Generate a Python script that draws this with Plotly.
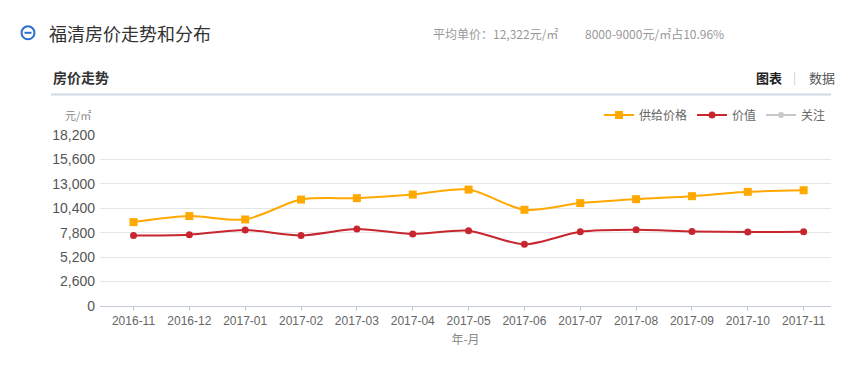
import plotly.graph_objects as go

months = ["2016-11", "2016-12", "2017-01", "2017-02", "2017-03", "2017-04", "2017-05",
          "2017-06", "2017-07", "2017-08", "2017-09", "2017-10", "2017-11"]
supply_price = [8930, 9570, 9210, 11330, 11480, 11860, 12390, 10240, 10950, 11370, 11690, 12150, 12322]
value_price = [7510, 7590, 8080, 7510, 8190, 7660, 8010, 6560, 7900, 8110, 7940, 7870, 7900]
attention = [None] * len(months)
y_ticks = [0, 2600, 5200, 7800, 10400, 13000, 15600, 18200]

# page body has an 8px margin; figure sits inside it
OFF = 8
W, H = 851 - 2 * OFF, 379 - 2 * OFF
L, R, T, B = 100 - OFF, 851 - 831 - OFF, 135 - OFF, 379 - 306.5 - OFF
PW, PH = W - L - R, H - T - B


def px(x):
    return (x - OFF - L) / PW


def py(y):
    return (H - B - (y - OFF)) / PH


FONT = "Liberation Sans, Noto Sans CJK SC, sans-serif"
CJK = "Noto Sans CJK SC, sans-serif"

fig = go.Figure()
fig.add_trace(go.Scatter(
    x=months, y=supply_price, name="供给价格", mode="lines+markers",
    line=dict(color="#ffa800", width=2, shape="spline", smoothing=0.8),
    marker=dict(symbol="square", size=8, color="#ffa800"),
))
fig.add_trace(go.Scatter(
    x=months, y=value_price, name="价值", mode="lines+markers",
    line=dict(color="#c8262f", width=2, shape="spline", smoothing=0.8),
    marker=dict(symbol="circle", size=7, color="#c8262f"),
))
fig.add_trace(go.Scatter(
    x=months, y=attention, name="关注", mode="lines+markers",
    line=dict(color="#c8c8c8", width=2),
    marker=dict(symbol="circle", size=6, color="#c8c8c8"),
))

shapes = [
    # icon circle
    dict(type="circle", xref="paper", yref="paper", x0=px(21.5), x1=px(34.5), y0=py(26), y1=py(39),
         line=dict(color="#2a6fd0", width=2)),
    dict(type="line", xref="paper", yref="paper", x0=px(24.5), x1=px(31.5), y0=py(32.5), y1=py(32.5),
         line=dict(color="#2a6fd0", width=2)),
    # separator line
    dict(type="line", xref="paper", yref="paper", x0=px(51), x1=px(831), y0=py(94.5), y1=py(94.5),
         line=dict(color="#d3d8e6", width=2)),
]

annotations = [
    dict(text="福清房价走势和分布", x=px(47), y=py(33), xanchor="left", yanchor="middle",
         font=dict(family=CJK, size=18, color="#333333")),
    dict(text="平均单价：12,322元/㎡", x=px(431), y=py(33), xanchor="left", yanchor="middle",
         font=dict(family=CJK, size=12, color="#999999")),
    dict(text="8000-9000元/㎡占10.96%", x=px(583), y=py(33), xanchor="left", yanchor="middle",
         font=dict(family=CJK, size=12, color="#999999")),
    dict(text="<b>房价走势</b>", x=px(51), y=py(77), xanchor="left", yanchor="middle",
         font=dict(family=CJK, size=14, color="#333333")),
    dict(text="<b>图表</b>", x=px(754), y=py(77), xanchor="left", yanchor="middle",
         font=dict(family=CJK, size=13, color="#222222")),
    dict(text="|", x=px(794), y=py(77), xanchor="center", yanchor="middle",
         font=dict(family=CJK, size=12, color="#cccccc")),
    dict(text="数据", x=px(807), y=py(77), xanchor="left", yanchor="middle",
         font=dict(family=CJK, size=13, color="#555555")),
    dict(text="元/㎡", x=px(93), y=py(115), xanchor="right", yanchor="middle",
         font=dict(family=CJK, size=11, color="#888888")),
]
for a in annotations:
    a.update(xref="paper", yref="paper", showarrow=False)

fig.update_layout(
    width=W, height=H,
    margin=dict(l=L, r=R, t=T, b=B, pad=0),
    paper_bgcolor="white", plot_bgcolor="white",
    shapes=shapes, annotations=annotations,
    showlegend=True,
    legend=dict(orientation="h", x=px(831), xanchor="right", y=py(115), yanchor="middle",
                font=dict(family=CJK, size=12, color="#666666"),
                itemwidth=30, bgcolor="rgba(0,0,0,0)", traceorder="normal"),
    xaxis=dict(
        type="category", range=[-0.6, 12.49],
        showgrid=False, showline=True, linecolor="#c3cbdb", linewidth=1,
        ticks="outside", ticklen=4, tickcolor="#c3cbdb",
        tickfont=dict(family=FONT, size=12, color="#666666"),
        title=dict(text="年-月", font=dict(family=CJK, size=12, color="#888888"), standoff=8),
        zeroline=False, fixedrange=True,
    ),
    yaxis=dict(
        range=[0, 18200], tickvals=y_ticks, tickformat=",d",
        showgrid=True, gridcolor="#e6e6e6", gridwidth=1,
        showline=False, zeroline=False,
        ticks="", ticklabelstandoff=4,
        tickfont=dict(family=FONT, size=14, color="#555555"),
        fixedrange=True,
    ),
    font=dict(family=FONT),
)

fig.write_html("out.html")
